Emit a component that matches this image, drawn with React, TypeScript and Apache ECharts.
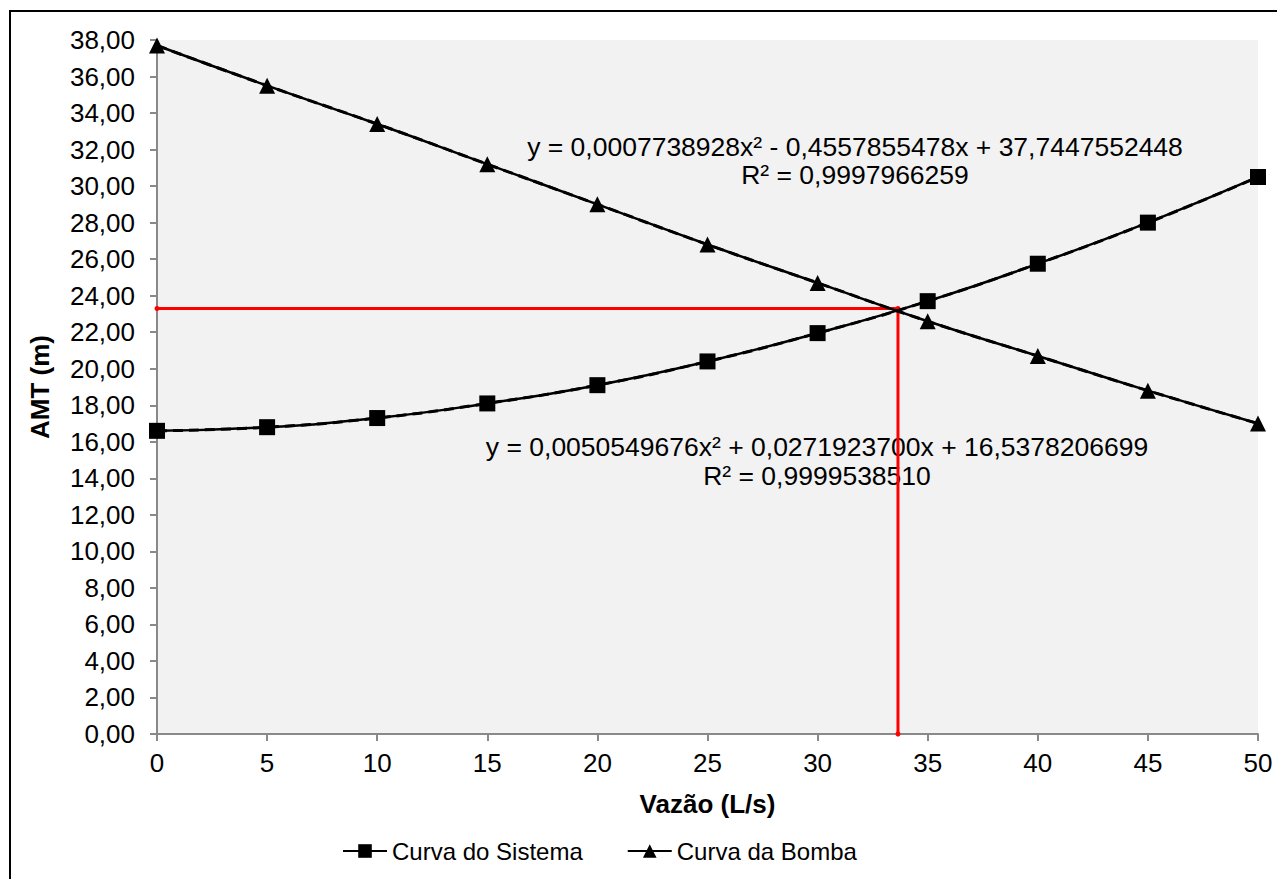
import React, { useEffect, useRef } from "react";
import * as echarts from "echarts";

const xValues = [0, 5, 10, 15, 20, 25, 30, 35, 40, 45, 50];
const sistema = [16.6, 16.8, 17.3, 18.1, 19.1, 20.4, 21.95, 23.7, 25.75, 28.0, 30.5];
const bomba = [37.7, 35.5, 33.4, 31.2, 29.0, 26.8, 24.7, 22.6, 20.7, 18.8, 17.0];
const redX = [0, 33.65, 33.65];
const redY = [23.3, 23.3, 0];
const eqSistema = "y = 0,0050549676x² + 0,0271923700x + 16,5378206699\nR² = 0,9999538510";
const eqBomba = "y = 0,0007738928x² - 0,4557855478x + 37,7447552448\nR² = 0,9997966259";

const FONT = "'Liberation Sans', Arial, sans-serif";

export default function App() {
  const ref = useRef<HTMLDivElement>(null);
  useEffect(() => {
    if (!ref.current) return;
    const chart = echarts.init(ref.current, undefined, { renderer: "svg" });
    const pts = (ys: number[]) => xValues.map((x, i) => [x, ys[i]]);
    const gridLeft = 149, gridTop = 32, gridW = 1101, gridH = 694;
    chart.setOption({
      animation: false,
      textStyle: { fontFamily: FONT },
      grid: {
        left: gridLeft, top: gridTop, width: gridW, height: gridH,
        show: true, backgroundColor: "#f2f2f2", borderWidth: 0, z: 0,
      },
      xAxis: {
        type: "value", min: 0, max: 50, interval: 5,
        name: "Vazão (L/s)", nameLocation: "middle", nameGap: 57,
        nameTextStyle: { fontSize: 26, fontWeight: "bold", color: "#000", fontFamily: FONT },
        axisLine: { lineStyle: { color: "#898989", width: 2 } },
        axisTick: { show: true, length: 7, lineStyle: { color: "#898989", width: 2 } },
        axisLabel: { fontSize: 26, color: "#000", margin: 16, fontFamily: FONT },
        splitLine: { show: false },
      },
      yAxis: {
        type: "value", min: 0, max: 38, interval: 2,
        name: "AMT (m)", nameLocation: "middle", nameGap: 104, nameRotate: 90,
        nameTextStyle: { fontSize: 26, fontWeight: "bold", color: "#000", fontFamily: FONT },
        axisLine: { show: true, lineStyle: { color: "#898989", width: 2 } },
        axisTick: { show: true, length: 7, lineStyle: { color: "#898989", width: 2 } },
        axisLabel: {
          fontSize: 26, color: "#000", margin: 22, fontFamily: FONT,
          formatter: (v: number) => v.toFixed(2).replace(".", ","),
        },
        splitLine: { show: false },
      },
      legend: {
        left: 329, top: 826,
        itemWidth: 44, itemHeight: 17, itemGap: 44,
        textStyle: { fontSize: 24, color: "#000", fontFamily: FONT },
        data: ["Curva do Sistema", "Curva da Bomba"],
      },
      graphic: [
        {
          type: "rect", z: 100, silent: true,
          shape: { x: 2, y: 3, width: 3000, height: 3000 },
          style: { fill: "none", stroke: "#000", lineWidth: 2 },
        },
        {
          type: "text", z: 1, x: 847, y: 125,
          style: {
            text: eqBomba, fontSize: 26.5, fill: "#000", fontFamily: FONT,
            align: "center", lineHeight: 28,
          },
        },
        {
          type: "text", z: 1, x: 809, y: 424,
          style: {
            text: eqSistema, fontSize: 26.5, fill: "#000", fontFamily: FONT,
            align: "center", lineHeight: 29,
          },
        },
      ],
      series: [
        {
          name: "Curva do Sistema", type: "line", data: pts(sistema), smooth: true,
          symbol: "rect", symbolSize: 16, z: 5,
          lineStyle: { color: "#000", width: 2.5 },
          itemStyle: { color: "#000" },
        },
        {
          name: "Curva da Bomba", type: "line", data: pts(bomba), smooth: true,
          symbol: "triangle", symbolSize: 16, z: 5,
          lineStyle: { color: "#000", width: 2.5 },
          itemStyle: { color: "#000" },
        },
        {
          name: "Tendência Sistema", type: "line", data: pts(sistema), smooth: true,
          symbol: "none", z: 4,
          lineStyle: { color: "#000", width: 3, type: [10, 6] },
        },
        {
          name: "Tendência Bomba", type: "line", data: pts(bomba), smooth: true,
          symbol: "none", z: 4,
          lineStyle: { color: "#000", width: 3, type: [10, 6] },
        },
        {
          name: "Ponto de operação", type: "line",
          data: redX.map((x, i) => [x, redY[i]]),
          symbol: "circle", symbolSize: 5, z: 3,
          lineStyle: { color: "#ff0000", width: 3 },
          itemStyle: { color: "#ff0000" },
        },
      ],
    });
    return () => chart.dispose();
  }, []);
  return <div ref={ref} style={{ width: 1277, height: 871 }} />;
}
